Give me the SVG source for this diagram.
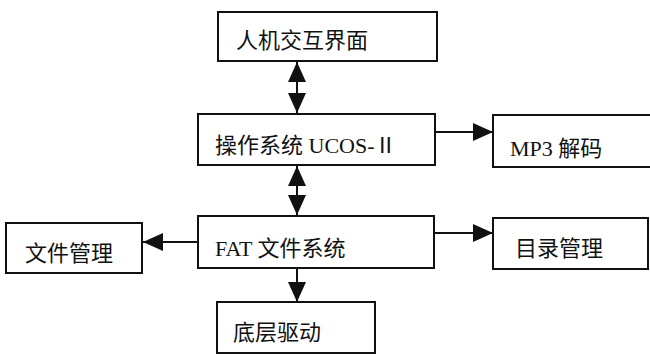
<svg xmlns="http://www.w3.org/2000/svg" width="650" height="356" viewBox="0 0 650 356">
<style>
.box{fill:#fff;stroke:#111;stroke-width:2}
.t{font-family:"Liberation Serif","Noto Sans CJK SC",serif;font-size:22px;fill:#111}
.c{stroke:#111;stroke-width:2;fill:none}
</style>
<defs>
<marker id="ah" viewBox="0 0 20 18" refX="20" refY="9" markerWidth="20" markerHeight="18" markerUnits="userSpaceOnUse" orient="auto-start-reverse">
<path d="M0,0 L20,9 L0,18 Z" fill="#111"/>
</marker>
</defs>
<rect width="650" height="356" fill="#fff"/>
<g id="connectors">
<line class="c" x1="297" y1="62" x2="297" y2="113" marker-start="url(#ah)" marker-end="url(#ah)"/>
<line class="c" x1="297" y1="166" x2="297" y2="215" marker-start="url(#ah)" marker-end="url(#ah)"/>
<line class="c" x1="435" y1="132" x2="493" y2="132" marker-end="url(#ah)"/>
<line class="c" x1="434" y1="233" x2="493" y2="233" marker-end="url(#ah)"/>
<line class="c" x1="198" y1="242" x2="143" y2="242" marker-end="url(#ah)"/>
<line class="c" x1="297" y1="268" x2="297" y2="302" marker-end="url(#ah)"/>
</g>
<g id="ui">
<rect class="box" x="218" y="12" width="219" height="49"/>
<text class="t" x="236" y="48">人机交互界面</text>
</g>
<g id="os">
<rect class="box" x="198" y="114" width="237" height="51"/>
<text class="t" x="215" y="153">操作系统 UCOS-Ⅱ</text>
</g>
<g id="mp3">
<rect class="box" x="493" y="115" width="170" height="52"/>
<text class="t" x="510" y="156">MP3 解码</text>
</g>
<g id="fat">
<rect class="box" x="198" y="216" width="236" height="52"/>
<text class="t" x="215" y="256">FAT 文件系统</text>
</g>
<g id="filemgr">
<rect class="box" x="6" y="223" width="136" height="50"/>
<text class="t" x="25" y="261">文件管理</text>
</g>
<g id="dirmgr">
<rect class="box" x="493" y="218" width="155" height="51"/>
<text class="t" x="515" y="256">目录管理</text>
</g>
<g id="driver">
<rect class="box" x="217" y="302" width="158" height="51"/>
<text class="t" x="233" y="340">底层驱动</text>
</g>
</svg>
